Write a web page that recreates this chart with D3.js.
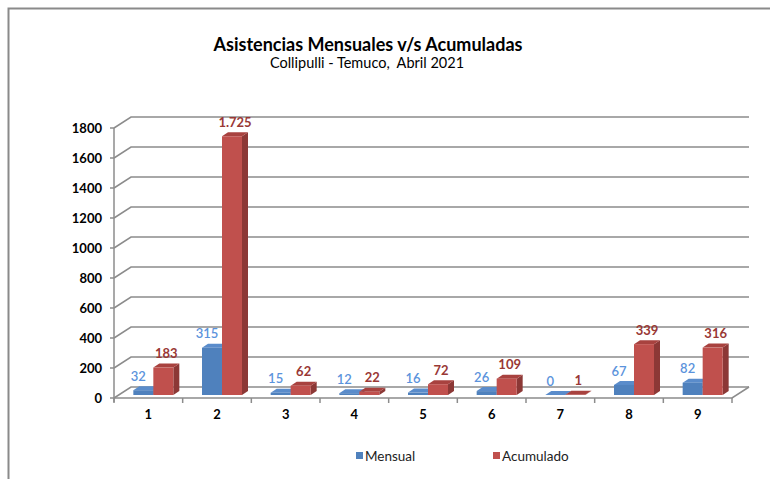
<!DOCTYPE html>
<meta charset="utf-8">
<script src="https://cdn.jsdelivr.net/npm/d3@7"></script>
<style>
body { margin: 0; background: #fff; }
text { font-family: Lato, "Open Sans", sans-serif; }
.title { font-size: 18px; font-weight: bold; fill: #000; }
.subtitle { font-size: 14.5px; fill: #000; white-space: pre; }
.tick-label { font-size: 13px; font-weight: bold; fill: #000; }
.legend text { font-size: 13.5px; fill: #222; }
</style>
<body>
<script>

// data
var categories = ["1", "2", "3", "4", "5", "6", "7", "8", "9"];
var mensual = [32, 315, 15, 12, 16, 26, 0, 67, 82];
var acumulado = [183, 1725, 62, 22, 72, 109, 1, 339, 316];
var yTicks = [0, 200, 400, 600, 800, 1000, 1200, 1400, 1600, 1800];
var seriesNames = ["Mensual", "Acumulado"];

var width = 770,
    height = 479;

// 3d depth of the back wall and of each bar
var DX = 17, DY = -11;
var bdx = 6, bdy = -4;
var barW = 20;

var colors = {
  Mensual:   {front: "#4f81bd", top: "#5a8ccb", side: "#385d8a", label: "#5b93dc"},
  Acumulado: {front: "#c0504d", top: "#a8423f", side: "#8c3836", label: "#993835"}
};

var fmt = d3.formatLocale({decimal: ",", thousands: ".", grouping: [3], currency: ["$", ""]}).format(",d");

var svg = d3.select("body").append("svg")
    .attr("width", width)
    .attr("height", height);

// chart frame
svg.append("rect")
    .attr("x", 8.5).attr("y", 8.5)
    .attr("width", 820).attr("height", 520)
    .attr("fill", "#fff")
    .attr("stroke", "#8a8a8a")
    .attr("stroke-width", 2);

var x = d3.scaleBand()
    .domain(categories)
    .range([114, 732]);

var y = d3.scaleLinear()
    .domain([0, 1800])
    .range([398, 128]);

var x0 = x.range()[0], x1 = x.range()[1];

// back wall gridlines + the diagonal on the left side
var grid = svg.append("g")
    .attr("stroke", "#8c8c8c")
    .attr("stroke-width", 1.5)
    .attr("fill", "none");

yTicks.forEach(function(t) {
  grid.append("path")
    .attr("d", "M" + x0 + "," + y(t) + "L" + (x0 + DX) + "," + (y(t) + DY) +
               "L" + (x1 + DX) + "," + (y(t) + DY));
  grid.append("line")
    .attr("x1", x0 - 4).attr("x2", x0)
    .attr("y1", y(t)).attr("y2", y(t));
});

// floor front edge and right diagonal
grid.append("path")
    .attr("d", "M" + x0 + "," + y(0) + "L" + x1 + "," + y(0) +
               "L" + (x1 + DX) + "," + (y(0) + DY));

// front vertical axis
grid.append("line")
    .attr("x1", x0).attr("x2", x0)
    .attr("y1", y(1800)).attr("y2", y(0) + 4);

// category tick marks
categories.concat(["end"]).forEach(function(c, i) {
  var px = x0 + i * x.bandwidth();
  grid.append("line")
    .attr("x1", px).attr("x2", px)
    .attr("y1", y(0)).attr("y2", y(0) + 5);
});

// y labels
svg.append("g").selectAll("text")
    .data(yTicks)
  .enter().append("text")
    .attr("class", "tick-label")
    .attr("x", 102)
    .attr("y", function(d) { return y(d); })
    .attr("dy", "0.35em")
    .attr("text-anchor", "end")
    .text(function(d) { return d; });

// x labels
svg.append("g").selectAll("text")
    .data(categories)
  .enter().append("text")
    .attr("class", "tick-label")
    .attr("x", function(d) { return x(d) + x.bandwidth() / 2; })
    .attr("y", 414)
    .attr("dy", "0.35em")
    .attr("text-anchor", "middle")
    .text(function(d) { return d; });

// bars, drawn left to right so the red one covers the blue side
var bars = svg.append("g");
var labels = svg.append("g");

function drawBar(left, value, c) {
  var base = y(0) - 3;
  var top = y(value) - 3;
  var r = left + barW;
  bars.append("path")
    .attr("fill", c.side)
    .attr("d", "M" + r + "," + base + "L" + (r + bdx) + "," + (base + bdy) +
               "L" + (r + bdx) + "," + (top + bdy) + "L" + r + "," + top + "Z");
  bars.append("path")
    .attr("fill", c.top)
    .attr("d", "M" + left + "," + top + "L" + (left + bdx) + "," + (top + bdy) +
               "L" + (r + bdx) + "," + (top + bdy) + "L" + r + "," + top + "Z");
  bars.append("rect")
    .attr("fill", c.front)
    .attr("x", left).attr("y", top)
    .attr("width", barW).attr("height", base - top);
}

categories.forEach(function(cat, i) {
  var c = x(cat) + x.bandwidth() / 2 + 5;
  drawBar(c - barW, mensual[i], colors.Mensual);
  drawBar(c, acumulado[i], colors.Acumulado);

  labels.append("text")
    .attr("x", c - barW / 2 - 5)
    .attr("y", y(mensual[i]) - 17)
    .attr("dy", "0.35em")
    .attr("text-anchor", "middle")
    .style("font-size", "13px")
    .style("font-weight", "600")
    .attr("fill", colors.Mensual.label)
    .text(fmt(mensual[i]));

  labels.append("text")
    .attr("x", c + barW / 2 + 3)
    .attr("y", y(acumulado[i]) - 17)
    .attr("dy", "0.35em")
    .attr("text-anchor", "middle")
    .style("font-size", "13px")
    .style("font-weight", "bold")
    .attr("fill", colors.Acumulado.label)
    .text(fmt(acumulado[i]));
});

// titles
svg.append("text")
    .attr("class", "title")
    .attr("x", 368).attr("y", 45)
    .attr("dy", "0.35em")
    .attr("text-anchor", "middle")
    .text("Asistencias Mensuales v/s Acumuladas");

svg.append("text")
    .attr("class", "subtitle")
    .attr("x", 367).attr("y", 63)
    .attr("dy", "0.35em")
    .attr("text-anchor", "middle")
    .text("Collipulli - Temuco,  Abril 2021");

// legend
var legend = svg.append("g").attr("class", "legend");
var legendX = [356, 493];
seriesNames.forEach(function(name, i) {
  legend.append("rect")
    .attr("x", legendX[i]).attr("y", 452)
    .attr("width", 7).attr("height", 7)
    .attr("fill", colors[name].front);
  legend.append("text")
    .attr("x", legendX[i] + 9).attr("y", 456)
    .attr("dy", "0.35em")
    .text(name);
});

</script>
</body>
</html>
